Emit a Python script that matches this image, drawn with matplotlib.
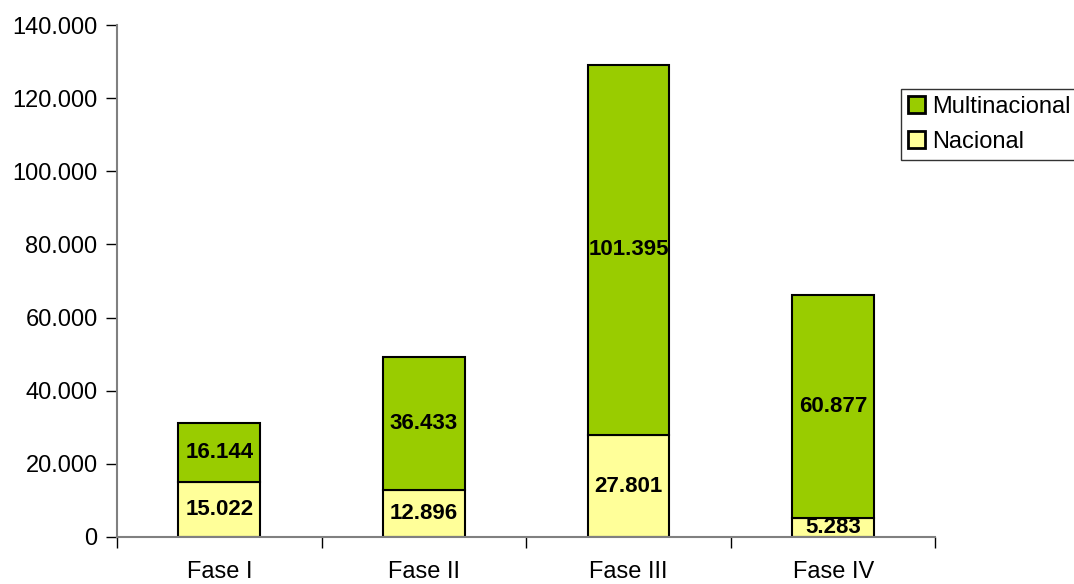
import matplotlib.pyplot as plt
import numpy as np

plt.rcParams['font.family'] = ['Liberation Sans', 'DejaVu Sans']

categories = ["Fase I", "Fase II", "Fase III", "Fase IV"]
nacional = [15022, 12896, 27801, 5283]
multinacional = [16144, 36433, 101395, 60877]
nacional_labels = ["15.022", "12.896", "27.801", "5.283"]
multi_labels = ["16.144", "36.433", "101.395", "60.877"]
y_ticks = [0, 20000, 40000, 60000, 80000, 100000, 120000, 140000]
y_tick_labels = ["0", "20.000", "40.000", "60.000", "80.000", "100.000", "120.000", "140.000"]

fig = plt.figure(figsize=(10.74, 5.84), dpi=100)
ax = fig.add_axes([0.109, 0.0805, 0.762, 0.8765])

x = np.arange(len(categories))
b1 = ax.bar(x, nacional, width=0.4, color='#FFFF99', edgecolor='black', linewidth=1.5, label='Nacional')
b2 = ax.bar(x, multinacional, width=0.4, bottom=nacional, color='#99CC00', edgecolor='black', linewidth=1.5, label='Multinacional')

# bold value labels centred in each segment
for i in range(len(categories)):
    ax.text(x[i], nacional[i] / 2, nacional_labels[i], ha='center', va='center',
            fontsize=16, fontweight='bold')
    ax.text(x[i], nacional[i] + multinacional[i] / 2, multi_labels[i], ha='center', va='center',
            fontsize=16, fontweight='bold')

ax.set_xlim(-0.5, len(categories) - 0.5)
ax.set_ylim(0, 140000)
ax.set_yticks(y_ticks)
ax.set_yticklabels(y_tick_labels, fontsize=17)
ax.set_xticks(x)
ax.set_xticklabels(categories, fontsize=17)
ax.set_xticks(np.arange(-0.5, len(categories)), minor=True)
ax.tick_params(axis='x', which='major', length=0, pad=17)
ax.tick_params(axis='x', which='minor', length=8, color='black', width=1)
ax.tick_params(axis='y', length=8, color='black', width=1, pad=6)

for s in ['top', 'right']:
    ax.spines[s].set_visible(False)
for s in ['left', 'bottom']:
    ax.spines[s].set_color('#808080')
    ax.spines[s].set_linewidth(1.5)

# legend box runs off the right edge of the figure, as in the original
handles = [b2, b1]
leg = fig.legend(handles, ['Multinacional', 'Nacional'], loc='upper left',
                 bbox_to_anchor=(0.839, 0.0, 0.2, 0.848), mode='expand',
                 fontsize=17, frameon=True,
                 fancybox=False, handlelength=0.7, handleheight=0.7,
                 handletextpad=0.3, borderpad=0.3, labelspacing=0.55,
                 borderaxespad=0)
leg.get_frame().set_edgecolor('black')
leg.get_frame().set_linewidth(1.0)
for h in leg.legend_handles:
    h.set_linewidth(2)

fig.savefig('out.png', dpi=100)
